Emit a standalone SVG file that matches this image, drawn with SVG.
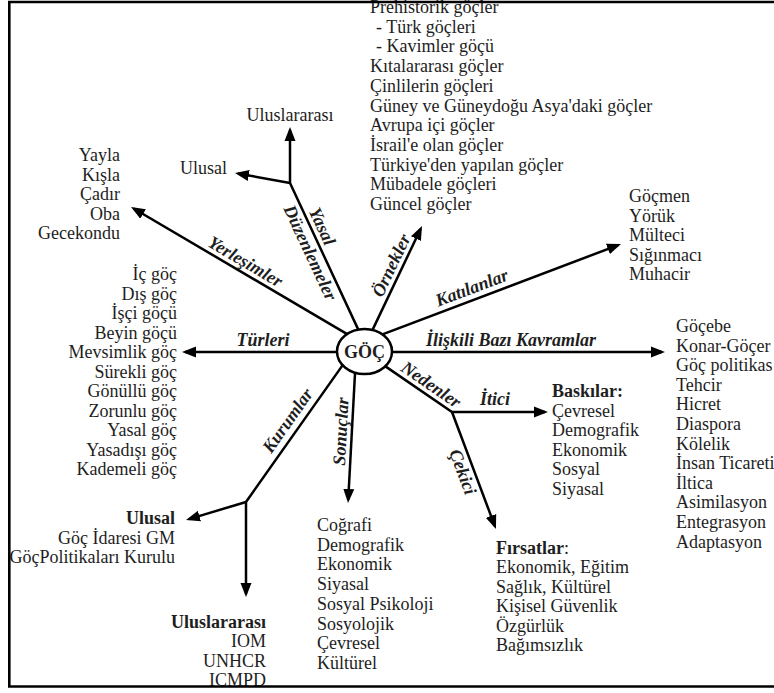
<svg xmlns="http://www.w3.org/2000/svg" width="774" height="693" viewBox="0 0 774 693">
<defs>
<marker id="ah" markerUnits="userSpaceOnUse" markerWidth="15" markerHeight="12" refX="11" refY="6" orient="auto"><path d="M0,0.5 L14,6 L0,11.5 z" fill="#000"/></marker>
</defs>
<style>
.t{font-family:"Liberation Serif","Times New Roman",serif;font-size:18px;fill:#1e1e1e}
.b{font-weight:bold}
.e{text-anchor:end}
.lb{font-family:"Liberation Serif","Times New Roman",serif;font-size:18px;font-weight:bold;font-style:italic;fill:#1e1e1e;text-anchor:middle}
.c{stroke:#000;stroke-width:2.5;fill:none;stroke-linejoin:miter}
.a{marker-end:url(#ah)}
</style>
<rect width="774" height="693" fill="#fff"/>
<g id="connectors">
<line class="c a" x1="340" y1="352" x2="185" y2="352"/>
<line class="c a" x1="390" y1="352" x2="662" y2="352"/>
<line class="c a" x1="378.5" y1="335.8" x2="618.2" y2="245.1"/>
<line class="c a" x1="370.4" y1="334.4" x2="420.7" y2="228.7"/>
<polyline class="c a" points="360.5,334.4 290,183 290,130"/>
<line class="c a" x1="290" y1="183" x2="237.95" y2="173.54"/>
<line class="c a" x1="350.6" y1="336.1" x2="133.6" y2="208.5"/>
<polyline class="c a" points="380,362.6 452,412 545,412"/>
<line class="c a" x1="452" y1="412" x2="494.9" y2="526.2"/>
<line class="c a" x1="355.4" y1="366" x2="348.2" y2="500"/>
<polyline class="c a" points="345.5,361.1 246,502 246,594"/>
<line class="c a" x1="246" y1="502" x2="188.9" y2="519.1"/>
<text class="lb" x="263" y="346">Türleri</text>
<text class="lb" x="511" y="346">İlişkili Bazı Kavramlar</text>
<text class="lb" x="495" y="405">İtici</text>
<text class="lb" transform="translate(473.9,293.3) rotate(-20.7)">Katılanlar</text>
<text class="lb" transform="translate(396.6,267.9) rotate(-64.6)">Örnekler</text>
<text class="lb" transform="translate(316.9,228.9) rotate(65)">Yasal</text>
<text class="lb" transform="translate(304.9,255.2) rotate(65)">Düzenlemeler</text>
<text class="lb" transform="translate(242.5,266.8) rotate(30.4)">Yerleşimler</text>
<text class="lb" transform="translate(427.8,389.4) rotate(34.5)">Nedenler</text>
<text class="lb" transform="translate(457.2,474) rotate(69.4)">Çekici</text>
<text class="lb" transform="translate(346.8,431.7) rotate(-86.9)">Sonuçlar</text>
<text class="lb" transform="translate(292.5,424) rotate(-54.8)">Kurumlar</text>
</g>
<g id="goc">
<ellipse cx="364.5" cy="351.5" rx="27.5" ry="22.5" fill="#fff" stroke="#000" stroke-width="2.5"/>
<text class="t b" x="364.5" y="358" text-anchor="middle">GÖÇ</text>
</g>
<g id="ornekler">
<text class="t" x="370" y="13">Prehistorik göçler<tspan x="376" dy="19.7">- Türk göçleri</tspan><tspan x="376" dy="19.7">- Kavimler göçü</tspan><tspan x="370" dy="19.7">Kıtalararası göçler</tspan><tspan x="370" dy="19.7">Çinlilerin göçleri</tspan><tspan x="370" dy="19.7">Güney ve Güneydoğu Asya'daki göçler</tspan><tspan x="370" dy="19.7">Avrupa içi göçler</tspan><tspan x="370" dy="19.7">İsrail'e olan göçler</tspan><tspan x="370" dy="19.7">Türkiye'den yapılan göçler</tspan><tspan x="370" dy="19.7">Mübadele göçleri</tspan><tspan x="370" dy="19.7">Güncel göçler</tspan></text>
</g>
<g id="yasal-uluslararasi"><text class="t" x="290" y="121" text-anchor="middle">Uluslararası</text></g>
<g id="yasal-ulusal"><text class="t e" x="227" y="174">Ulusal</text></g>
<g id="yerlesimler">
<text class="t e" x="120" y="161">Yayla<tspan x="120" dy="19.5">Kışla</tspan><tspan x="120" dy="19.5">Çadır</tspan><tspan x="120" dy="19.5">Oba</tspan><tspan x="120" dy="19.5">Gecekondu</tspan></text>
</g>
<g id="turleri">
<text class="t e" x="177" y="280">İç göç<tspan x="177" dy="19.5">Dış göç</tspan><tspan x="177" dy="19.5">İşçi göçü</tspan><tspan x="177" dy="19.5">Beyin göçü</tspan><tspan x="177" dy="19.5">Mevsimlik göç</tspan><tspan x="177" dy="19.5">Sürekli göç</tspan><tspan x="177" dy="19.5">Gönüllü göç</tspan><tspan x="177" dy="19.5">Zorunlu göç</tspan><tspan x="177" dy="19.5">Yasal göç</tspan><tspan x="177" dy="19.5">Yasadışı göç</tspan><tspan x="177" dy="19.5">Kademeli göç</tspan></text>
</g>
<g id="katilanlar">
<text class="t" x="629" y="202">Göçmen<tspan x="629" dy="19.6">Yörük</tspan><tspan x="629" dy="19.6">Mülteci</tspan><tspan x="629" dy="19.6">Sığınmacı</tspan><tspan x="629" dy="19.6">Muhacir</tspan></text>
</g>
<g id="kavramlar">
<text class="t" x="676" y="332">Göçebe<tspan x="676" dy="19.6">Konar-Göçer</tspan><tspan x="676" dy="19.6">Göç politikas</tspan><tspan x="676" dy="19.6">Tehcir</tspan><tspan x="676" dy="19.6">Hicret</tspan><tspan x="676" dy="19.6">Diaspora</tspan><tspan x="676" dy="19.6">Kölelik</tspan><tspan x="676" dy="19.6">İnsan Ticareti</tspan><tspan x="676" dy="19.6">İltica</tspan><tspan x="676" dy="19.6">Asimilasyon</tspan><tspan x="676" dy="19.6">Entegrasyon</tspan><tspan x="676" dy="19.6">Adaptasyon</tspan></text>
</g>
<g id="baskilar">
<text class="t" x="552" y="397"><tspan class="b">Baskılar:</tspan><tspan x="552" dy="19.6">Çevresel</tspan><tspan x="552" dy="19.6">Demografik</tspan><tspan x="552" dy="19.6">Ekonomik</tspan><tspan x="552" dy="19.6">Sosyal</tspan><tspan x="552" dy="19.6">Siyasal</tspan></text>
</g>
<g id="firsatlar">
<text class="t" x="496" y="553.5"><tspan class="b">Fırsatlar</tspan>:<tspan x="496" dy="19.5">Ekonomik, Eğitim</tspan><tspan x="496" dy="19.5">Sağlık, Kültürel</tspan><tspan x="496" dy="19.5">Kişisel Güvenlik</tspan><tspan x="496" dy="19.5">Özgürlük</tspan><tspan x="496" dy="19.5">Bağımsızlık</tspan></text>
</g>
<g id="sonuclar">
<text class="t" x="317" y="531">Coğrafi<tspan x="317" dy="19.7">Demografik</tspan><tspan x="317" dy="19.7">Ekonomik</tspan><tspan x="317" dy="19.7">Siyasal</tspan><tspan x="317" dy="19.7">Sosyal Psikoloji</tspan><tspan x="317" dy="19.7">Sosyolojik</tspan><tspan x="317" dy="19.7">Çevresel</tspan><tspan x="317" dy="19.7">Kültürel</tspan></text>
</g>
<g id="kurumlar-ulusal">
<text class="t e" x="175" y="524"><tspan class="b">Ulusal</tspan><tspan x="175" dy="19.7">Göç İdaresi GM</tspan><tspan x="175" dy="19.7">GöçPolitikaları Kurulu</tspan></text>
</g>
<g id="kurumlar-uluslararasi">
<text class="t e" x="266" y="628"><tspan class="b">Uluslararası</tspan><tspan x="266" dy="19.3">IOM</tspan><tspan x="266" dy="19.3">UNHCR</tspan><tspan x="266" dy="19.3">ICMPD</tspan></text>
</g>
<path d="M774,2 H9.3 V686.5 H774" fill="none" stroke="#000" stroke-width="2.6"/>
</svg>
